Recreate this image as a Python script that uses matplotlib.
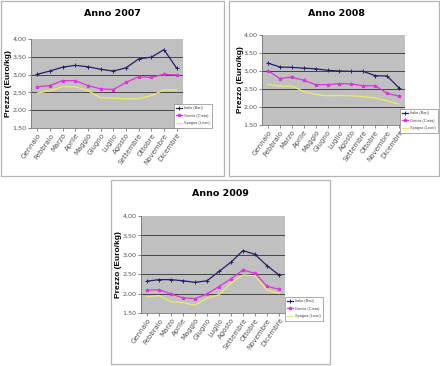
import matplotlib
matplotlib.use("Agg")
import matplotlib.pyplot as plt
from matplotlib.patches import Rectangle
from matplotlib.ticker import FuncFormatter

mesi = ["Gennaio", "Febbraio", "Marzo", "Aprile", "Maggio", "Giugno", "Luglio",
        "Agosto", "Settembre", "Ottobre", "Novembre", "Dicembre"]
serie = ["Italia (Bari)", "Grecia (Creta)", "Spagna (Leon)"]

italia_2007 = [3.01, 3.10, 3.21, 3.26, 3.22, 3.15, 3.10, 3.19, 3.44, 3.49, 3.70, 3.18]
grecia_2007 = [2.66, 2.69, 2.83, 2.83, 2.69, 2.60, 2.58, 2.78, 2.94, 2.92, 3.01, 2.99]
spagna_2007 = [2.48, 2.55, 2.66, 2.66, 2.55, 2.35, 2.34, 2.32, 2.32, 2.41, 2.57, 2.57]

italia_2008 = [3.22, 3.11, 3.10, 3.08, 3.06, 3.02, 3.00, 2.99, 2.99, 2.87, 2.86, 2.53]
grecia_2008 = [3.01, 2.79, 2.83, 2.74, 2.62, 2.62, 2.65, 2.64, 2.59, 2.59, 2.38, 2.30]
spagna_2008 = [2.63, 2.58, 2.58, 2.43, 2.35, 2.31, 2.32, 2.31, 2.29, 2.25, 2.17, 2.08]

italia_2009 = [2.32, 2.36, 2.36, 2.33, 2.29, 2.33, 2.57, 2.81, 3.11, 3.01, 2.72, 2.48]
grecia_2009 = [2.09, 2.10, 1.99, 1.89, 1.87, 1.99, 2.18, 2.38, 2.61, 2.52, 2.19, 2.11]
spagna_2009 = [1.92, 1.95, 1.79, 1.77, 1.70, 1.88, 1.97, 2.27, 2.48, 2.46, 2.09, 2.00]

anni = ["Anno 2007", "Anno 2008", "Anno 2009"]
dati = [(italia_2007, grecia_2007, spagna_2007),
        (italia_2008, grecia_2008, spagna_2008),
        (italia_2009, grecia_2009, spagna_2009)]

W, H = 440, 366
NARROW = ["Liberation Sans Narrow", "DejaVu Sans"]
plt.rcParams['font.family'] = ["Liberation Sans", "DejaVu Sans"]

fig = plt.figure(figsize=(4.4, 3.66), dpi=100)
fig.patch.set_facecolor("white")

def fx(x):
    return x / W

def fy(y):
    return 1 - y / H

# panel frames (x0, y0, x1, y1) in pixels
panels = [(0.5, 0.5, 224, 176), (229, 0.5, 439, 176), (111, 180, 330, 364)]
for (x0, y0, x1, y1) in panels:
    fig.patches.append(Rectangle((fx(x0), fy(y1)), fx(x1 - x0), (y1 - y0) / H,
                                 transform=fig.transFigure, fill=False,
                                 edgecolor="#b4b4b4", linewidth=0.9))

axes_px = [(31, 39, 183, 128), (262, 35, 405, 125), (141, 216, 285, 313)]
titles_px = [(112, 14), (337, 14), (220, 193)]
legend_px = [(172, 102), (398, 107), (283, 295)]
ylabel_px = [12, 244, 122]

colori = ["#20206a", "#e030e0", "#eeee60"]
markers = ["+", "*", None]

for i, (x0, y0, x1, y1) in enumerate(axes_px):
    ax = fig.add_axes([fx(x0), fy(y1), fx(x1 - x0), (y1 - y0) / H])
    ax.set_facecolor("#c0c0c0")
    xs = list(range(len(mesi)))
    for j, vals in enumerate(dati[i]):
        ax.plot(xs, vals, color=colori[j], linewidth=0.9, marker=markers[j],
                markersize=2.5, markeredgewidth=0.7, label=serie[j], zorder=3)
    ax.set_ylim(1.5, 4.0)
    ax.set_xlim(-0.5, 11.5)
    ax.set_yticks([1.5, 2.0, 2.5, 3.0, 3.5, 4.0])
    ax.yaxis.set_major_formatter(FuncFormatter(lambda v, p: f"{v:.2f}".replace(".", ",")))
    for g in [2.0, 2.5, 3.0, 3.5]:
        ax.axhline(g, color="#444444", linewidth=0.7, zorder=1)
    ax.set_xticks(xs)
    ax.set_xticklabels(mesi, rotation=55, ha="right", rotation_mode="anchor",
                       fontsize=5.0, family=NARROW, color="#333333")
    for lab in ax.get_yticklabels():
        lab.set_fontsize(4.6)
        lab.set_family(NARROW)
        lab.set_color("#333333")
    ax.tick_params(axis="both", length=2, width=0.5, pad=1.0, colors="#555555")
    for s in ["top", "right"]:
        ax.spines[s].set_visible(False)
    for s in ["left", "bottom"]:
        ax.spines[s].set_color("#777777")
        ax.spines[s].set_linewidth(0.6)
    ax.set_ylabel("Prezzo (Euro/kg)", fontsize=6.0, fontweight="bold")
    ax.yaxis.set_label_coords((ylabel_px[i] - x0) / (x1 - x0), 0.5)
    tx, ty = titles_px[i]
    fig.text(fx(tx), fy(ty), anni[i], ha="center", va="center", fontsize=6.8,
             fontweight="bold", family=NARROW)
    lx, ly = legend_px[i]
    leg = ax.legend(loc="upper left", bbox_to_anchor=(fx(lx), fy(ly)),
                    bbox_transform=fig.transFigure, fontsize=2.8, frameon=True,
                    fancybox=False, borderpad=0.6, handlelength=1.5,
                    labelspacing=0.9, handletextpad=0.5)
    leg.get_frame().set_edgecolor("#888888")
    leg.get_frame().set_linewidth(0.5)
    leg.get_frame().set_alpha(1)
    for t in leg.get_texts():
        t.set_color("#444444")

fig.savefig("out.png", dpi=100, facecolor="white")
